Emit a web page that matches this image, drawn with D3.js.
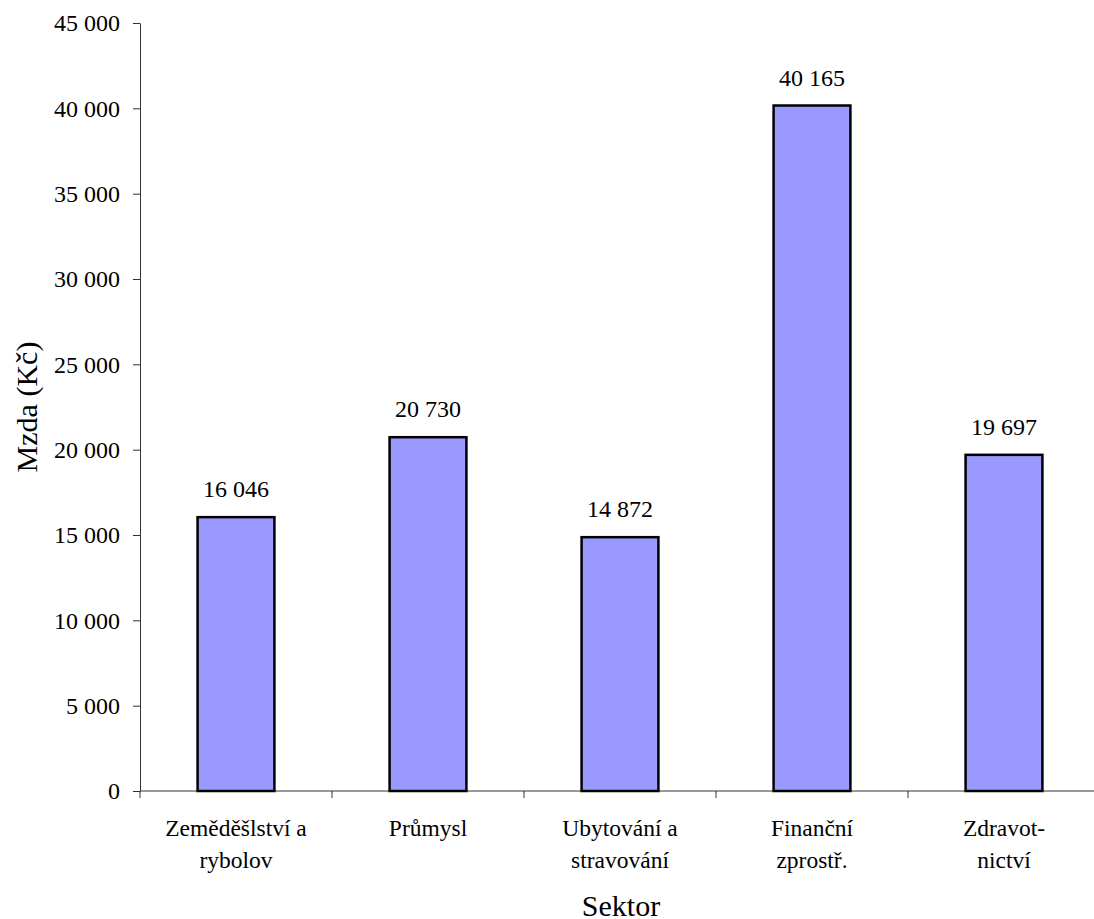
<!DOCTYPE html>
<html>
<head>
<meta charset="utf-8">
<script src="https://cdn.jsdelivr.net/npm/d3@7"></script>
<style>
  body { margin: 0; background: #fff; }
</style>
</head>
<body>
<div id="chart"></div>
<script>
// categories (two lines each) and wages
var sectors = [
  ["Zeměděšlství a", "rybolov"],
  ["Průmysl"],
  ["Ubytování a", "stravování"],
  ["Finanční", "zprostř."],
  ["Zdravot-", "nictví"]
];
var wages = [16046, 20730, 14872, 40165, 19697];
var yTicks = [0, 5000, 10000, 15000, 20000, 25000, 30000, 35000, 40000, 45000];

var width = 1094, height = 919;
var margin = {left: 140, right: -6, top: 23, bottom: 128};
var serif = "Liberation Serif";

var fmt = function(v) { return d3.format(",")(v).replace(/,/g, " "); };

var svg = d3.select("#chart").append("svg")
  .attr("width", width)
  .attr("height", height)
  .attr("font-family", serif);

var x = d3.scaleBand()
  .domain(d3.range(sectors.length))
  .range([margin.left, width - margin.right])
  .paddingInner(0.6)
  .paddingOuter(0.3);

var y = d3.scaleLinear()
  .domain([0, 45000])
  .range([height - margin.bottom, margin.top]);

// y axis
var yAxis = svg.append("g")
  .attr("transform", "translate(" + margin.left + ",0)")
  .call(d3.axisLeft(y).tickValues(yTicks).tickFormat(fmt).tickSize(7).tickSizeOuter(0));
yAxis.attr("font-family", serif).attr("font-size", 24);
yAxis.selectAll("text").attr("fill", "#000").attr("x", -20).attr("dy", "0.33em");
yAxis.selectAll("path, line").attr("stroke", "#333");

// x axis: tick marks on band boundaries
var bandStep = x.step();
var xBase = y(0);
var xg = svg.append("g");
xg.append("line")
  .attr("x1", margin.left).attr("x2", width)
  .attr("y1", xBase).attr("y2", xBase)
  .attr("stroke", "#333").attr("stroke-width", 1);
d3.range(sectors.length + 1).forEach(function(i) {
  var tx = margin.left + i * bandStep;
  xg.append("line")
    .attr("x1", tx).attr("x2", tx)
    .attr("y1", xBase).attr("y2", xBase + 7)
    .attr("stroke", "#333").attr("stroke-width", 1);
});

// category labels
sectors.forEach(function(lines, i) {
  var t = svg.append("text")
    .attr("text-anchor", "middle")
    .attr("font-size", 23.5)
    .attr("x", x(i) + x.bandwidth() / 2)
    .attr("y", 836);
  lines.forEach(function(s, j) {
    t.append("tspan")
      .attr("x", x(i) + x.bandwidth() / 2)
      .attr("dy", j === 0 ? 0 : 32)
      .text(s);
  });
});

// bars
svg.selectAll("rect.bar")
  .data(wages)
  .enter().append("rect")
  .attr("class", "bar")
  .attr("x", function(d, i) { return x(i); })
  .attr("y", function(d) { return y(d); })
  .attr("width", x.bandwidth())
  .attr("height", function(d) { return y(0) - y(d); })
  .attr("fill", "#9999ff")
  .attr("stroke", "#000")
  .attr("stroke-width", 2.5);

// value labels
svg.selectAll("text.val")
  .data(wages)
  .enter().append("text")
  .attr("class", "val")
  .attr("text-anchor", "middle")
  .attr("font-size", 24)
  .attr("x", function(d, i) { return x(i) + x.bandwidth() / 2; })
  .attr("y", function(d) { return y(d) - 20; })
  .text(fmt);

// axis titles
svg.append("text")
  .attr("text-anchor", "middle")
  .attr("font-size", 30)
  .attr("transform", "translate(37," + ((margin.top + xBase) / 2) + ") rotate(-90)")
  .text("Mzda (Kč)");

svg.append("text")
  .attr("text-anchor", "middle")
  .attr("font-size", 30)
  .attr("x", 621)
  .attr("y", 916)
  .text("Sektor");
</script>
</body>
</html>
